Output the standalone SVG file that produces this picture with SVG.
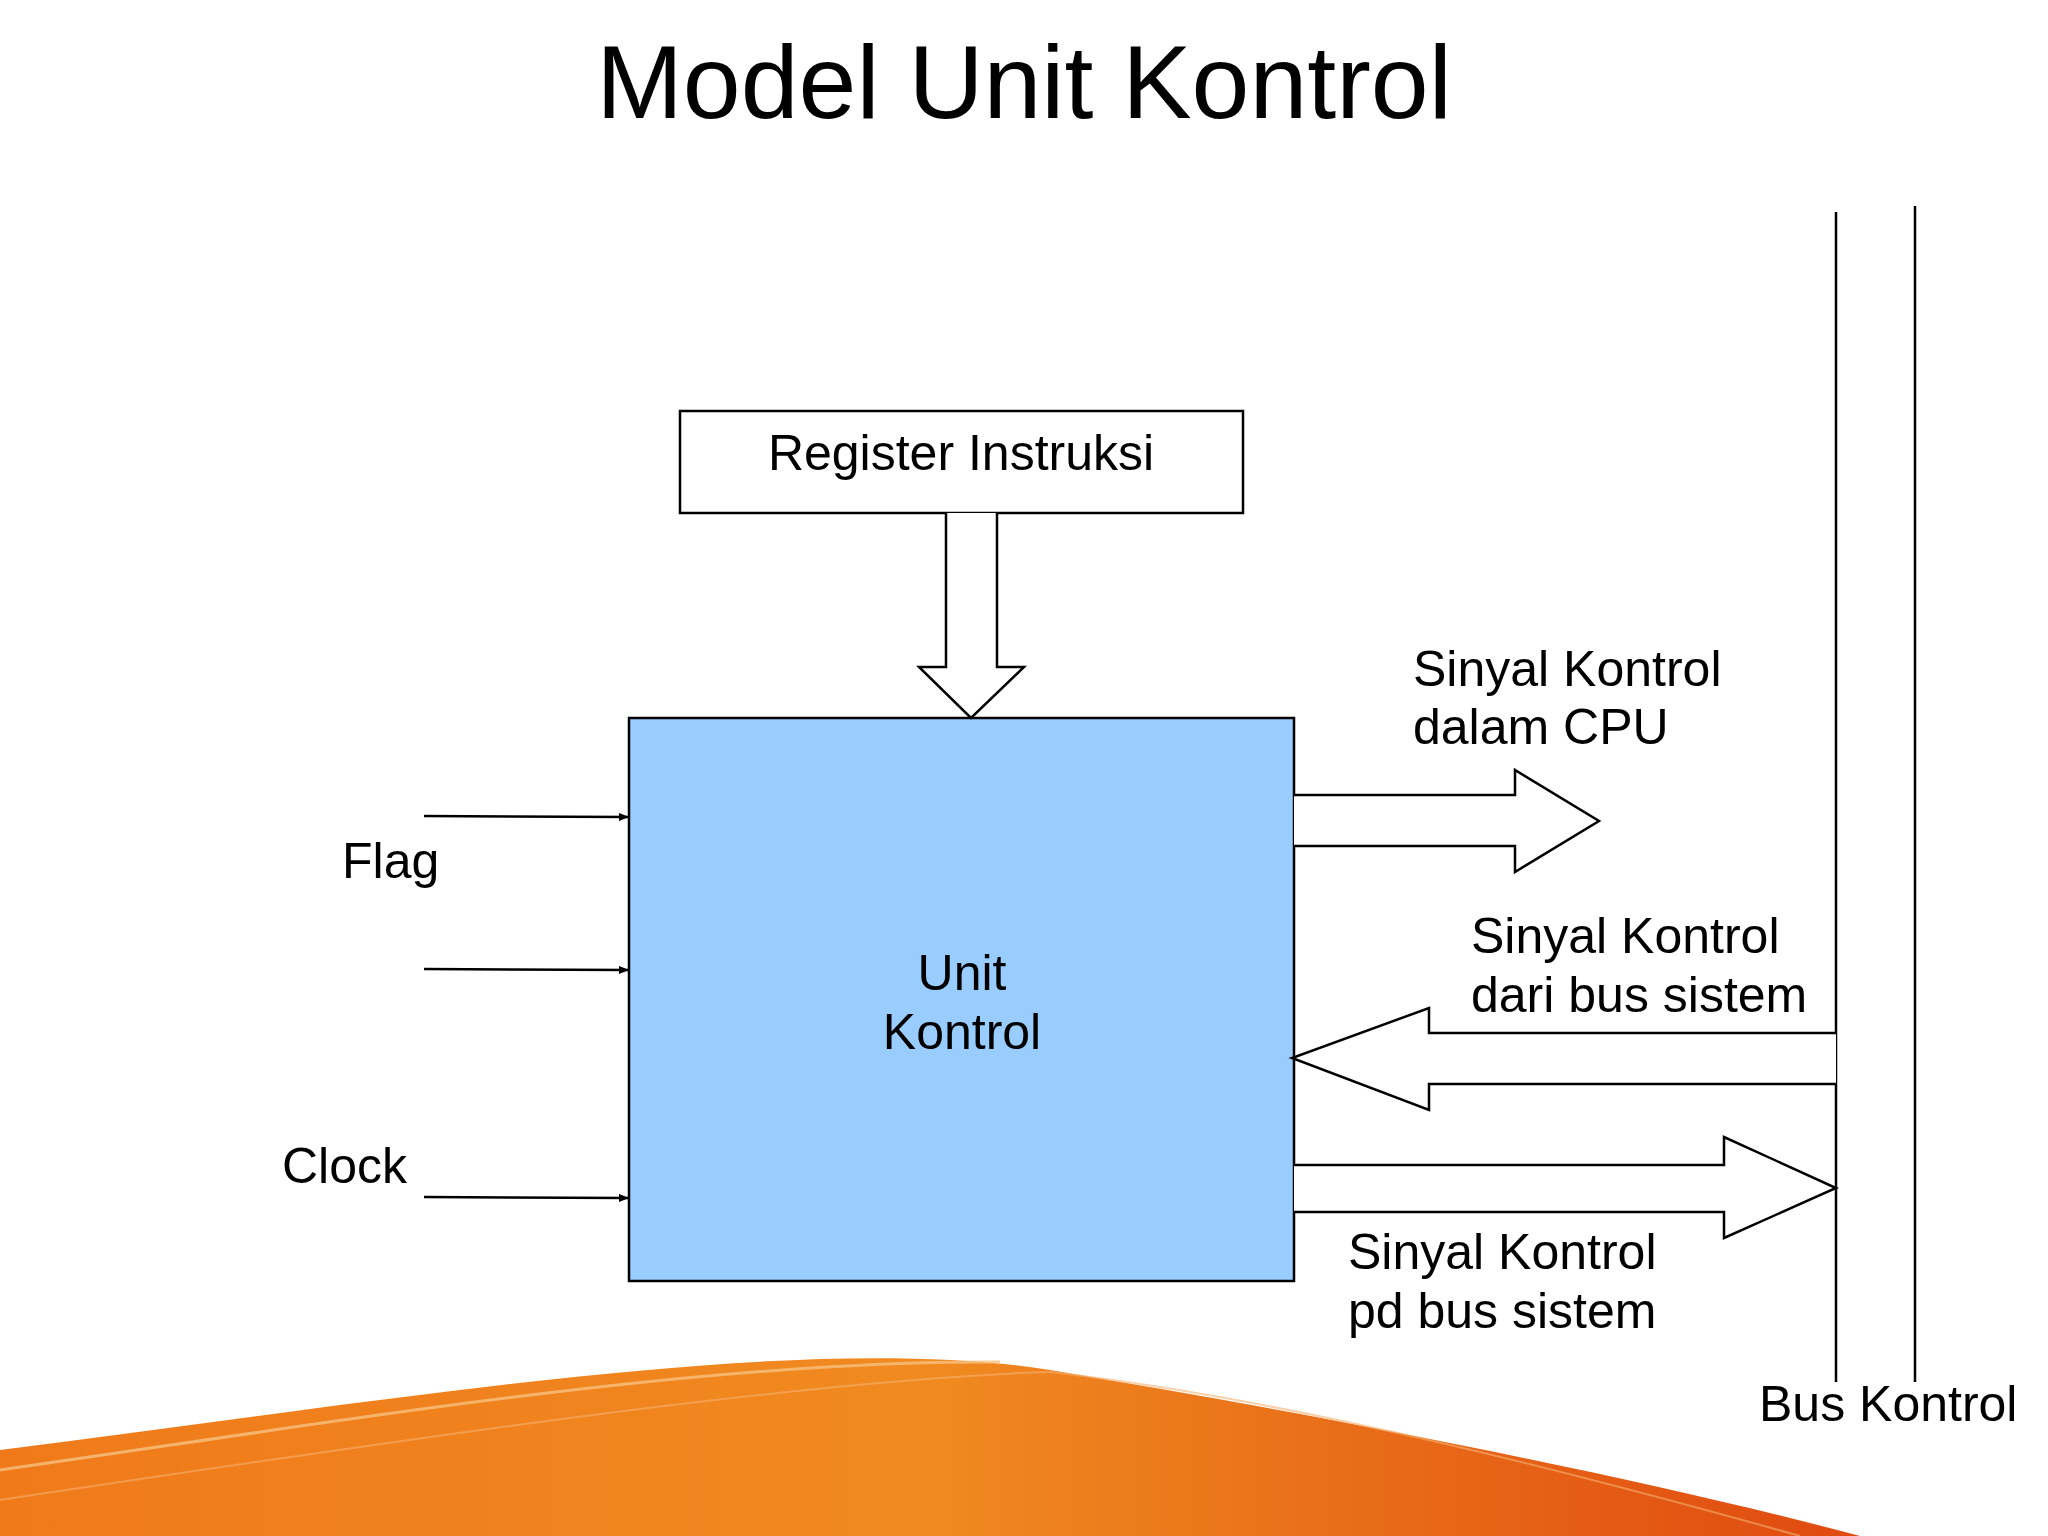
<svg xmlns="http://www.w3.org/2000/svg" width="2048" height="1536" viewBox="0 0 2048 1536">
<defs>
<style>
text{font-family:"Liberation Sans",Arial,sans-serif;fill:#000}
.t{font-size:50px}
.o{fill:#fff;stroke:#000;stroke-width:2.5}
.l{stroke:#000;stroke-width:2.5;fill:none}
</style>
<marker id="a" markerWidth="10" markerHeight="8" refX="10" refY="4" orient="auto" markerUnits="userSpaceOnUse"><path d="M0,0 L10,4 L0,8 z" fill="#000"/></marker>
<linearGradient id="w" x1="0" y1="0" x2="1" y2="0"><stop offset="0" stop-color="#f07a1a"/><stop offset="0.5" stop-color="#f08a20"/><stop offset="1" stop-color="#e04a10"/></linearGradient>
</defs>
<rect width="2048" height="1536" fill="#fff"/>
<g id="wave">
<path d="M0,1450 C400,1400 800,1330 1050,1370 C1350,1420 1650,1480 1860,1536 L0,1536 z" fill="url(#w)"/>
<path d="M0,1470 C350,1420 700,1360 1000,1362" stroke="#f7c080" stroke-width="3" fill="none" opacity="0.8"/>
<path d="M0,1500 C400,1440 800,1380 1050,1372 C1300,1400 1600,1480 1800,1536" stroke="#f5b070" stroke-width="2" fill="none" opacity="0.6"/>
</g>
<text x="1024" y="118" text-anchor="middle" font-size="104">Model Unit Kontrol</text>
<g id="register"><rect x="680" y="411" width="563" height="102" class="o"/><text x="961" y="470" text-anchor="middle" class="t" font-size="47">Register Instruksi</text></g>
<g id="unit"><rect x="629" y="718" width="665" height="563" fill="#99CCFF" stroke="#000" stroke-width="2.5"/><text x="962" y="990" text-anchor="middle" class="t">Unit</text><text x="962" y="1049" text-anchor="middle" class="t">Kontrol</text></g>
<g id="bus"><line x1="1836" y1="212" x2="1836" y2="1382" class="l"/><line x1="1915" y1="206" x2="1915" y2="1382" class="l"/><text x="1759" y="1421" class="t">Bus Kontrol</text></g>
<g id="connectors">
<path d="M946,513 V667 H919 L971,718 L1024,667 H997 V513" class="o"/>
<path d="M1294,795 H1515 V770 L1599,821 L1515,872 V846 H1294" class="o"/>
<path d="M1836,1033 H1429 V1008 L1292,1058 L1429,1110 V1084 H1836" class="o"/>
<path d="M1294,1165 H1724 V1137 L1836,1188 L1724,1238 V1212 H1294" class="o"/>
<line x1="424" y1="816" x2="629" y2="817" class="l" marker-end="url(#a)"/>
<line x1="424" y1="969" x2="629" y2="970" class="l" marker-end="url(#a)"/>
<line x1="424" y1="1197" x2="629" y2="1198" class="l" marker-end="url(#a)"/>
</g>
<text x="342" y="878" class="t">Flag</text>
<text x="282" y="1183" class="t">Clock</text>
<text x="1413" y="686" class="t">Sinyal Kontrol</text><text x="1413" y="744" class="t">dalam CPU</text>
<text x="1471" y="953" class="t">Sinyal Kontrol</text><text x="1471" y="1012" class="t">dari bus sistem</text>
<text x="1348" y="1269" class="t">Sinyal Kontrol</text><text x="1348" y="1328" class="t">pd bus sistem</text>
</svg>
